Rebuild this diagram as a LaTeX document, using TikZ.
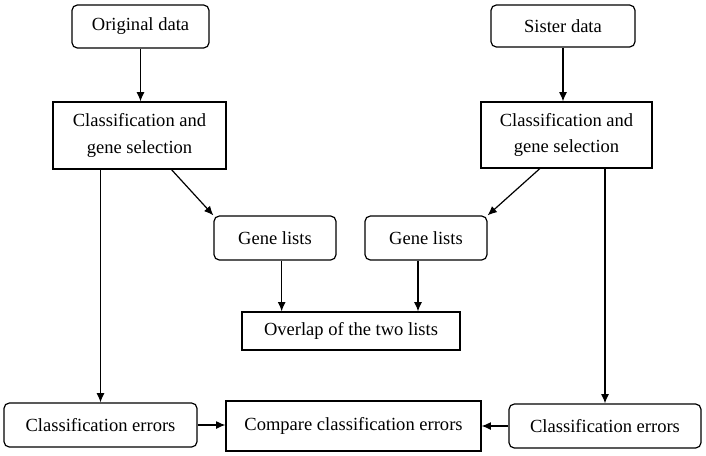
\documentclass[tikz,border=0pt]{standalone}
\usepackage{fontspec}
\setmainfont{Liberation Serif}
\usetikzlibrary{arrows.meta}

\tikzset{
    box/.style={draw, line width=0.9pt, inner sep=0pt, align=center,
        font=\fontsize{13.9}{20}\selectfont},
    rbox/.style={box, rounded corners=4pt},
    arr/.style={line width=0.9pt, -{Latex[length=7pt,width=6pt]}}
}

\begin{document}
\begin{tikzpicture}[x=0.75pt, y=-0.75pt]
            \useasboundingbox (0,0) rectangle (706,455);

            \node[rbox, minimum width=102.75pt, minimum height=32.25pt] (orig) at (140.5,26.5) {Original data};
            \node[rbox, minimum width=108pt, minimum height=31.5pt] (sister) at (563,26) {Sister data};

            \node[box, minimum width=129.75pt, minimum height=50.25pt] (clsL) at (139.5,135.5) {Classification and\\gene selection};
            \node[box, minimum width=128.25pt, minimum height=49.5pt] (clsR) at (566.5,135) {Classification and\\gene selection};

            \node[rbox, minimum width=91.5pt, minimum height=33pt] (genesL) at (275,238) {Gene lists};
            \node[rbox, minimum width=91.5pt, minimum height=33pt] (genesR) at (426,238) {Gene lists};

            \node[box, minimum width=163.5pt, minimum height=28.5pt] (overlap) at (351,331) {Overlap of the two lists};

            \node[rbox, minimum width=144.75pt, minimum height=33pt] (errL) at (100.5,425) {Classification errors};
            \node[box, minimum width=191.25pt, minimum height=37.5pt] (compare) at (353.5,426) {Compare classification errors};
            \node[rbox, minimum width=144pt, minimum height=33pt] (errR) at (605,426) {Classification errors};

            \draw[arr] (orig.south) -- (orig.south |- clsL.north);
            \draw[arr] (sister.south) -- (sister.south |- clsR.north);

            \draw[arr] ([xshift=24pt]clsL.south) -- (genesL.north west);
            \draw[arr] ([xshift=-20pt]clsR.south) -- (genesR.north east);

            \draw[arr] ([xshift=5pt]genesL.south) -- ([xshift=5pt]genesL.south |- overlap.north);
            \draw[arr] ([xshift=-6pt]genesR.south) -- ([xshift=-6pt]genesR.south |- overlap.north);

            \draw[arr] (errL.north |- clsL.south) -- (errL.north);
            \draw[arr] (errR.north |- clsR.south) -- (errR.north);

            \draw[arr] (errL.east) -- (errL.east -| compare.west);
            \draw[arr] (errR.west) -- (errR.west -| compare.east);
        \end{tikzpicture}
\end{document}
